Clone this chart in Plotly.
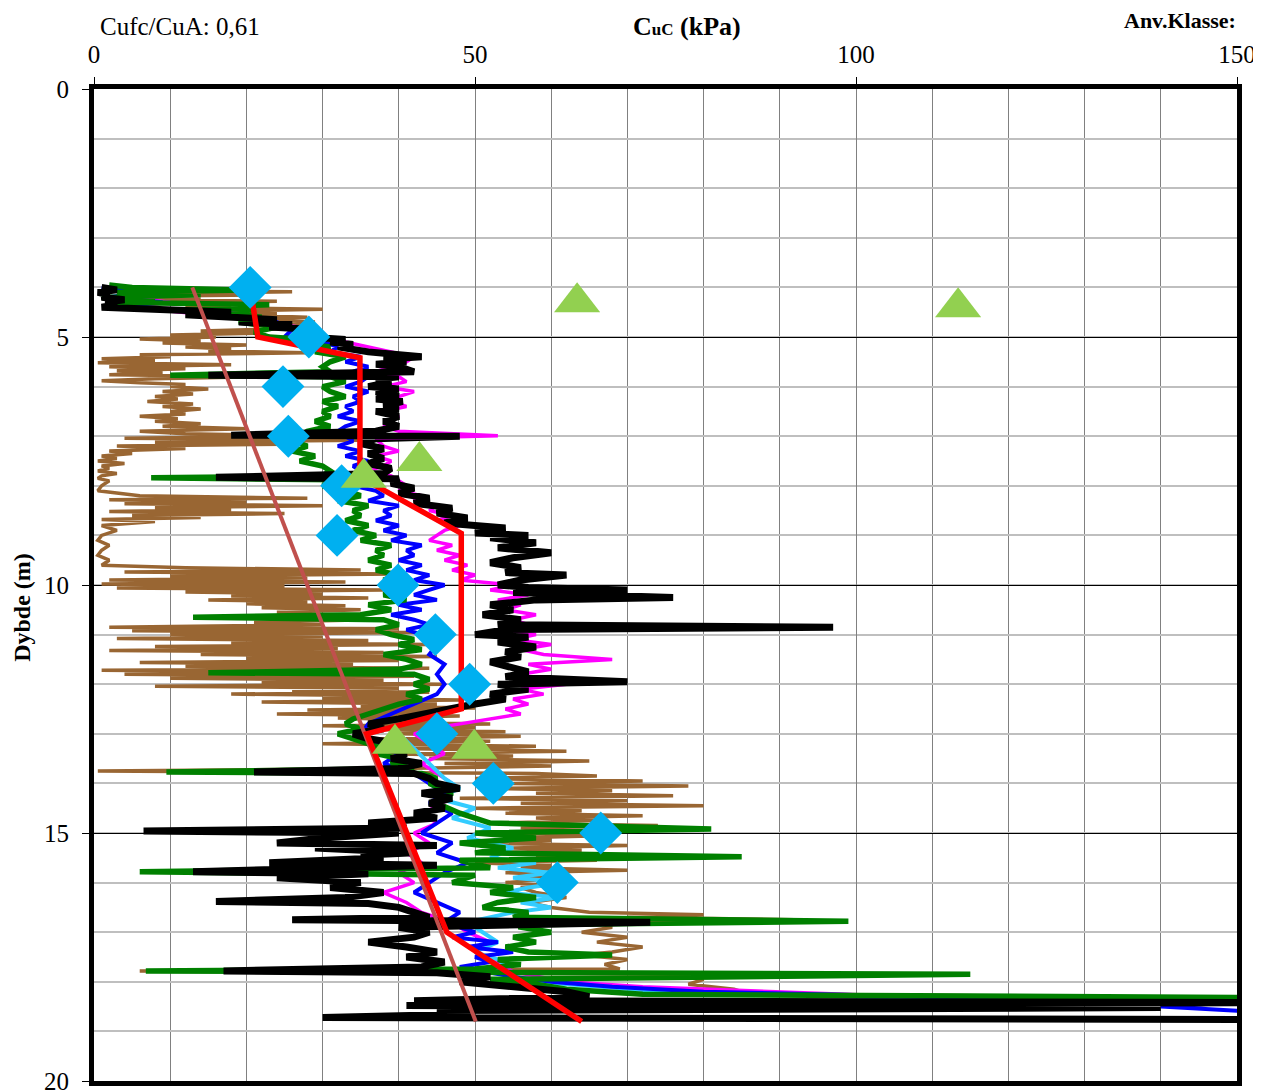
import plotly.graph_objects as go

# ---------------- data ----------------
black_d = [4.00,4.05,4.10,4.15,4.20,4.25,4.30,4.35,4.40,4.45,4.50,4.55,4.60,4.65,4.70,4.75,4.80,4.85,4.90,4.95,
           5.00,5.05,5.10,5.15,5.20,5.30,5.40,5.45,5.50,5.55,5.60,5.70,5.77,5.80,5.85,5.90,6.00,6.05,6.10,6.20,
           6.25,6.30,6.40,6.45,6.50,6.60,6.70,6.80,6.90,6.98,7.00,7.05,7.15,7.25,7.35,7.45,7.55,7.65,7.75,7.83,
           7.86,7.95,8.05,8.15,8.25,8.35,8.45,8.55,8.65,8.75,8.85,8.95,9.00,9.05,9.15,9.25,9.35,9.45,9.55,9.65,
           9.75,9.80,9.90,10.00,10.05,10.10,10.15,10.25,10.30,10.40,10.50,10.60,10.70,10.80,10.85,10.90,11.00,11.05,11.15,11.25,
           11.35,11.45,11.55,11.65,11.75,11.85,11.95,12.00,12.10,12.20,12.30,12.40,12.50,12.60,12.70,12.80,12.90,13.00,13.10,13.20,
           13.30,13.40,13.50,13.60,13.70,13.77,13.80,13.90,14.00,14.10,14.20,14.30,14.40,14.50,14.60,14.70,14.80,14.90,14.96,15.00,
           15.10,15.20,15.25,15.30,15.40,15.45,15.50,15.60,15.65,15.70,15.78,15.82,15.90,16.00,16.10,16.20,16.30,16.38,16.42,16.50,
           16.60,16.70,16.75,16.80,16.90,17.00,17.10,17.20,17.30,17.40,17.50,17.60,17.70,17.78,17.82,17.90,18.00,18.10,18.20,18.30,
           18.38,18.42,18.48,18.52,18.58,18.65,18.72,18.76]
black_v = [1,3,0.5,2,1,4,1.5,3,1,8,18,12,20,24,19,26,23,29,27,30,
           28,33,31,34,32,36,43,38,41,37,40,42,15,40,37,39,36,40,37,40,
           37,40.5,38,40,37,40,38,40,37,18,48,37,35,38,36,38,36,39,38,16,
           40,39,42,40,44,42,47,45,49,46,54,50,57,52,58,53,60,55,52,56,
           54,62,56,53,57,70,55,76,58,52,55,51,56,53,97,54,50,57,53,58,
           54,56,52,55,57,54,70,53,57,52,54,50,47,44,40,36,38,34,36,40,
           38,41,39,43,40,21,42,44,45,48,43,47,44,46,42,45,36,41,6.5,40,
           30,24,45,29,42,35,38,23,45,33,13,36,24,35,31,38,33,16,36,40,
           42,44,26,73,40,44,42,36,41,45,41,46,43,17,45,52,48,55,62,65,
           42,155,41,140,45,50,30,155]

green_d = [3.95,4.00,4.05,4.10,4.15,4.20,4.25,4.30,4.35,4.40,4.45,4.50,4.60,4.70,4.80,4.90,5.00,5.05,5.10,5.20,
           5.30,5.40,5.50,5.60,5.70,5.77,5.80,5.90,6.00,6.10,6.20,6.30,6.40,6.50,6.60,6.70,6.80,6.90,7.00,7.10,
           7.20,7.30,7.40,7.50,7.60,7.70,7.80,7.84,7.88,8.00,8.10,8.20,8.30,8.40,8.50,8.60,8.70,8.80,8.90,9.00,
           9.10,9.20,9.30,9.40,9.50,9.60,9.70,9.80,9.90,10.00,10.10,10.20,10.30,10.40,10.50,10.60,10.65,10.70,10.80,10.90,
           11.00,11.10,11.20,11.30,11.40,11.50,11.60,11.70,11.77,11.80,11.90,12.00,12.10,12.20,12.30,12.40,12.50,12.60,12.70,12.80,
           12.90,13.00,13.10,13.20,13.30,13.40,13.50,13.60,13.70,13.77,13.80,13.90,14.00,14.20,14.40,14.60,14.80,14.92,15.00,15.10,
           15.20,15.30,15.40,15.48,15.55,15.70,15.78,15.85,16.00,16.10,16.20,16.30,16.40,16.50,16.60,16.70,16.78,16.85,16.90,17.00,
           17.10,17.20,17.30,17.40,17.46,17.55,17.65,17.74,17.78,17.85,17.95,18.05,18.15,18.25,18.32]
green_v = [2,5,20,3,14,1,8,2,23,12,21,17,22,19,24,21,23,28,26,31,
           29,33,31,30,31,10,31,33,30,31,33,30,32,30,31,29,31,28,27,26,
           28,26,29,27,30,31,30,7.5,32,30,33,35,32,36,34,35,33,36,34,37,
           35,39,37,38,36,39,37,40,38,42,40,38,41,36,39,35,13,38,40,37,
           39,42,40,43,38,41,43,40,15,42,44,42,44,41,43,40,38,36,34,33,
           35,32,34,36,38,37,40,39,42,9.5,43,45,44,47,45,48,52,81,50,58,
           48,54,50,85,48,52,6,50,47,55,52,58,53,51,57,55,99,56,56,60,
           55,58,54,57,68,53,56,50,6.8,115,52,58,62,72,152]

blue_d = [4.00,4.10,4.20,4.30,4.40,4.45,4.55,4.70,4.85,5.00,5.10,5.20,5.30,5.40,5.50,5.60,5.70,5.80,5.90,6.00,
          6.10,6.20,6.30,6.40,6.50,6.60,6.70,6.80,6.90,7.00,7.10,7.20,7.30,7.40,7.50,7.60,7.70,7.90,8.00,8.10,
          8.20,8.30,8.40,8.50,8.60,8.70,8.80,8.90,9.00,9.10,9.20,9.30,9.40,9.50,9.60,9.70,9.80,9.90,10.00,10.10,
          10.20,10.30,10.40,10.50,10.60,10.70,10.80,10.90,11.00,11.20,11.40,11.60,11.80,12.00,12.20,12.40,12.60,12.80,13.00,13.20,
          13.40,13.60,13.80,14.00,14.20,14.40,14.60,14.80,15.00,15.20,15.40,15.60,15.80,16.00,16.20,16.40,16.60,16.80,17.00,17.10,
          17.20,17.30,17.40,17.50,17.60,17.70,17.90,18.00,18.10,18.20,18.30,18.40,18.50,18.60]
blue_v = [1,6,2,9,3,12,20,24,26,25,30,32,31,35,33,36,34,36,35,33,
          36,34,35,33,34,32,35,33,32,33,34,32,35,33,36,34,35,36,34,37,
          38,36,40,38,39,37,40,38,41,39,43,41,42,40,43,41,44,42,46,44,
          42,45,40,43,39,42,44,41,43,45,44,46,45,46,45,42,39,36,35,37,
          40,38,42,44,46,44,47,45,43,47,45,49,46,44,42,45,48,46,50,47,
          53,49,55,50,52,48,55,60,68,80,110,152,140,152]

magenta_d = [4.00,4.10,4.20,4.30,4.40,4.60,4.80,5.00,5.10,5.20,5.30,5.40,5.50,5.60,5.70,5.80,5.90,6.00,6.10,6.20,
             6.30,6.40,6.50,6.60,6.70,6.80,6.90,6.99,7.05,7.20,7.30,7.40,7.50,7.60,7.70,7.80,7.90,8.00,8.10,8.20,
             8.30,8.40,8.50,8.60,8.70,8.80,8.90,9.00,9.10,9.20,9.30,9.40,9.50,9.60,9.70,9.80,9.90,10.00,10.10,10.20,
             10.30,10.40,10.50,10.60,10.70,10.80,10.90,11.00,11.10,11.20,11.30,11.40,11.50,11.60,11.70,11.80,11.90,12.00,12.10,12.20,
             12.30,12.40,12.50,12.60,12.70,12.80,12.90,13.00,13.20,13.40,13.60,13.80,14.00,14.20,14.40,14.60,14.80,15.00,15.20,15.40,
             15.60,15.80,16.00,16.20,16.40,16.60,16.80,17.00,17.20,17.40,17.60,17.80,18.00,18.10,18.20,18.30,18.40,18.45]
magenta_v = [3,8,4,10,5,18,27,30,33,36,39,42,41,39,37,40,41,38,42,40,
             39,41,38,40,39,38,40,53,37,38,40,37,39,38,36,39,40,41,40,43,
             42,45,44,47,45,48,46,45,44,47,45,48,46,49,47,50,48,55,52,57,
             53,56,54,58,55,57,54,58,55,60,56,59,68,57,60,56,58,62,56,59,
             55,57,54,56,52,48,44,42,44,46,43,45,47,44,46,43,45,42,44,41,
             43,40,42,38,41,43,47,49,52,50,53,55,62,72,90,110,125,152]

cyan_d = [13.0,13.3,13.6,13.9,14.1,14.3,14.5,14.7,14.9,15.1,15.3,15.5,15.6,15.7,15.8,15.9,16.0,16.1,16.2,16.3,
          16.4,16.5,16.6,16.7,16.8,17.0,17.2,17.4,17.6,17.8,18.0,18.2,18.3,18.4,18.45]
cyan_v = [40,42,44,46,48,45,50,47,52,49,55,52,58,53,60,55,62,57,54,61,
          56,60,55,52,49,51,53,50,54,52,58,75,100,140,152]

brown_d = [4.00,4.03,4.06,4.09,4.12,4.15,4.18,4.21,4.25,4.28,4.32,4.36,4.40,4.44,4.48,4.52,4.56,4.60,4.65,4.70,
           4.76,4.82,4.88,4.92,4.96,5.00,5.04,5.08,5.12,5.16,5.20,5.24,5.28,5.32,5.36,5.40,5.44,5.48,5.52,5.56,
           5.60,5.64,5.68,5.72,5.76,5.80,5.84,5.88,5.92,5.96,6.00,6.05,6.10,6.15,6.20,6.25,6.30,6.35,6.40,6.45,
           6.50,6.55,6.60,6.65,6.70,6.75,6.80,6.85,6.90,6.95,7.00,7.04,7.08,7.12,7.16,7.20,7.25,7.30,7.35,7.40,
           7.45,7.50,7.55,7.60,7.65,7.70,7.75,7.80,7.85,7.90,8.00,8.10,8.20,8.25,8.28,8.32,8.36,8.40,8.44,8.48,
           8.52,8.56,8.60,8.64,8.68,8.72,8.80,8.90,9.00,9.10,9.20,9.30,9.40,9.50,9.60,9.65,9.70,9.74,9.78,9.82,
           9.86,9.90,9.94,9.98,10.02,10.06,10.10,10.14,10.18,10.22,10.26,10.30,10.34,10.38,10.42,10.46,10.50,10.55,10.60,10.65,
           10.70,10.75,10.80,10.85,10.88,10.92,10.96,11.00,11.04,11.08,11.12,11.16,11.20,11.24,11.28,11.32,11.36,11.40,11.44,11.48,
           11.52,11.56,11.60,11.64,11.68,11.72,11.76,11.80,11.84,11.88,11.92,11.96,12.00,12.04,12.08,12.12,12.16,12.20,12.24,12.28,
           12.32,12.36,12.40,12.44,12.48,12.52,12.56,12.60,12.64,12.68,12.72,12.76,12.80,12.84,12.88,12.92,12.96,13.00,13.05,13.10,
           13.15,13.20,13.25,13.30,13.35,13.40,13.45,13.50,13.55,13.60,13.65,13.70,13.75,13.80,13.85,13.90,13.95,14.00,14.05,14.10,
           14.15,14.20,14.25,14.30,14.35,14.40,14.45,14.50,14.55,14.60,14.65,14.70,14.75,14.80,14.85,14.90,14.95,15.00,15.05,15.10,
           15.15,15.20,15.25,15.30,15.35,15.40,15.45,15.50,15.55,15.60,15.65,15.70,15.75,15.80,15.85,15.90,15.95,16.00,16.05,16.10,
           16.20,16.30,16.40,16.50,16.60,16.65,16.70,16.75,16.80,16.90,17.00,17.10,17.20,17.30,17.40,17.46,17.55,17.65,17.74,17.78,
           17.85,17.95,18.05,18.15,18.25,18.32,18.35,18.38]
brown_v = [3,18,4,26,8,22,5,14,6,24,10,18,12,30,16,24,20,28,22,29,
           25,27,14,22,10,16,6,14,9,20,12,18,15,28,6,10,1,8,0.5,18,
           2,12,3,9,2,22,8,1,6,12,10,15,9,13,8,11,7,13,9,14,
           10,12,6,11,8,14,9,20,6,12,30,4,35,8,25,3,12,2,5,1,
           3,0.5,4,1,2,0.5,3,1,0.5,2,1,0.5,6,28,2,20,4,30,8,18,
           2,25,5,14,1,8,1,3,1,0.5,2,1,0.5,2,1,12,35,4,40,10,
           28,2,33,1,25,3,38,12,30,18,36,15,28,20,33,22,35,24,31,14,
           36,21,30,2,40,5,42,10,30,3,36,18,44,8,32,2,38,14,45,20,
           40,6,34,12,44,1,36,4,42,10,38,22,46,8,40,26,44,18,42,30,
           48,22,45,35,50,28,46,24,48,32,44,36,52,30,50,38,54,40,56,36,
           52,30,58,42,62,38,55,44,65,46,60,40,0.5,58,66,50,72,55,78,52,
           68,58,76,48,70,56,80,50,64,54,72,58,66,52,74,56,62,50,68,54,
           60,48,70,55,64,52,74,58,66,50,60,56,70,54,62,56,58,54,60,56,
           58,62,57,60,65,80,70,92,66,68,64,70,66,72,68,64,70,67,69,6,
           76,80,78,84,86,152,148,152]

red_d = [4.0, 5.0, 5.42, 7.82, 8.96, 12.5, 13.0, 17.0, 18.8]
red_v = [20.5, 21.5, 34.9, 34.9, 48.2, 48.2, 35.8, 46.3, 64.0]

trend_d = [4.0, 18.8]
trend_v = [12.9, 50.1]

diamond_d = [4, 5, 6, 7, 8, 9, 10, 11, 12, 13, 14, 15, 16]
diamond_v = [20.5, 28.2, 24.8, 25.5, 32.5, 31.9, 39.9, 44.8, 49.3, 45.0, 52.4, 66.5, 60.8]

tri_d = [4.3, 4.4, 7.5, 7.84, 13.2, 13.3]
tri_v = [63.4, 113.4, 42.7, 35.4, 39.5, 49.9]

x_ticks = [0, 50, 100, 150]
y_ticks = [0, 5, 10, 15, 20]

# ---------------- figure ----------------
FONT = "Liberation Serif"
fig = go.Figure()

def add_line(d, v, color, width):
    fig.add_trace(go.Scatter(x=v, y=d, mode="lines",
                             line=dict(color=color, width=width),
                             hoverinfo="skip", showlegend=False))

add_line(brown_d, brown_v, "#996633", 3.5)
add_line(magenta_d, magenta_v, "#FF00FF", 3.5)
add_line(cyan_d, cyan_v, "#33CCFF", 4)
add_line(blue_d, blue_v, "#0000FF", 4)
add_line(green_d, green_v, "#008000", 5.5)
add_line(black_d, black_v, "#000000", 7)
add_line(trend_d, trend_v, "#C0504D", 4)
add_line(red_d, red_v, "#FF0000", 5.5)

fig.add_trace(go.Scatter(x=diamond_v, y=diamond_d, mode="markers",
                         marker=dict(symbol="diamond", size=33, color="#00B0F0"),
                         showlegend=False, hoverinfo="skip"))
fig.add_trace(go.Scatter(x=tri_v, y=tri_d, mode="markers",
                         marker=dict(symbol="triangle-up", size=40, color="#92D050"),
                         showlegend=False, hoverinfo="skip"))

# the page body adds an 8 px margin, so the figure is 8 px smaller and margins shifted
fig.update_layout(
    width=1253, height=1083,
    margin=dict(l=86, r=24, t=81, b=10),
    paper_bgcolor="white", plot_bgcolor="white",
    font=dict(family=FONT, size=25, color="black"),
    showlegend=False,
    xaxis=dict(side="top", range=[0, 150], tickvals=x_ticks, ticktext=[str(t) for t in x_ticks],
               ticks="outside", ticklen=7, tickcolor="black", tickwidth=1,
               showgrid=True, gridcolor="#808080", gridwidth=1,
               minor=dict(dtick=10, tick0=0, showgrid=True, gridcolor="#808080", gridwidth=1),
               showline=True, linecolor="black", linewidth=5, mirror=True,
               zeroline=False, ticklabelstandoff=4, automargin=False,
               ticklabeloverflow="allow",
               tickfont=dict(family=FONT, size=25)),
    yaxis=dict(range=[20, 0], tickvals=y_ticks, ticktext=[str(t) for t in y_ticks],
               ticks="outside", ticklen=7, tickcolor="black", tickwidth=1,
               showgrid=True, gridcolor="#000000", gridwidth=1,
               minor=dict(dtick=1, tick0=0, showgrid=True, gridcolor="#BFBFBF", gridwidth=2),
               showline=True, linecolor="black", linewidth=5, mirror=True,
               zeroline=False, ticklabelstandoff=8, automargin=False,
               ticklabeloverflow="allow",
               tickfont=dict(family=FONT, size=25)),
)

fig.add_annotation(text="<b>C<span style='font-size:17px'>uC</span> (kPa)</b>",
                   xref="paper", yref="paper", x=0.519, y=1.0635,
                   xanchor="center", yanchor="middle", showarrow=False,
                   font=dict(family=FONT, size=26))
fig.add_annotation(text="Cufc/CuA: 0,61", xref="paper", yref="paper",
                   x=0.0035, y=1.0635, xanchor="left", yanchor="middle",
                   showarrow=False, font=dict(family=FONT, size=25))
fig.add_annotation(text="<b>Anv.Klasse:</b>", xref="paper", yref="paper",
                   x=0.899, y=1.0695, xanchor="left", yanchor="middle",
                   showarrow=False, font=dict(family=FONT, size=22))
fig.add_annotation(text="<b>Dybde (m)</b>", xref="paper", yref="paper",
                   x=-0.063, y=0.478, xanchor="center", yanchor="middle",
                   textangle=-90, showarrow=False, font=dict(family=FONT, size=24))

fig.write_html("out.html")
